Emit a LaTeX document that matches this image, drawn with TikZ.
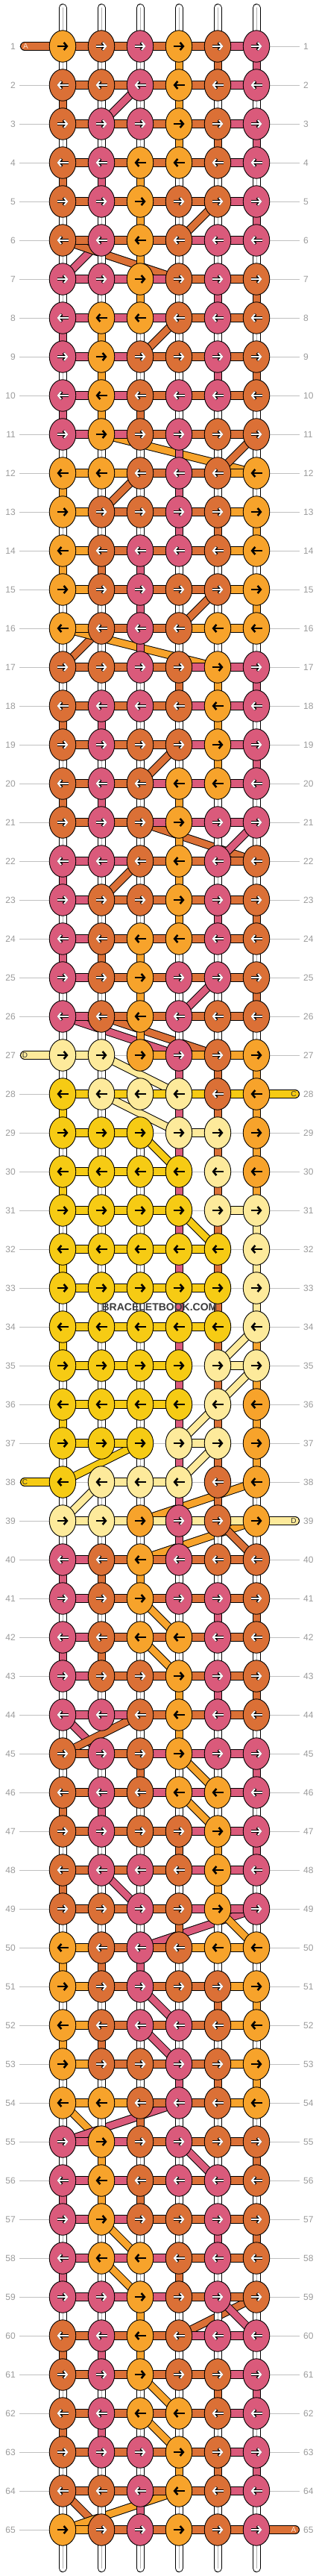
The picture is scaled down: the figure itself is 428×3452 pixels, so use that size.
\documentclass[tikz,border=0pt]{standalone}
\usepackage{fontspec}
\setmainfont{Liberation Sans}
\usetikzlibrary{arrows.meta,shapes.geometric}
\definecolor{kd}{HTML}{DB7036}
\definecolor{ko}{HTML}{F7A32B}
\definecolor{kp}{HTML}{DA5A7B}
\definecolor{ky}{HTML}{F6CB14}
\definecolor{kl}{HTML}{FDEA9B}
\definecolor{kw}{HTML}{FFFFFF}
\definecolor{lbltext}{HTML}{9B9B9B}
\definecolor{lblline}{HTML}{C0C0C0}
\definecolor{midline}{HTML}{B0B0B0}
\definecolor{wmark}{HTML}{3C3C3C}
\definecolor{alabel}{HTML}{FBE3D3}
\definecolor{dlabel}{HTML}{333333}
\tikzset{
 knot/.style={ellipse,draw=black,line width=0.9pt,minimum width=35.5pt,minimum height=42.5pt,inner sep=0pt},
 rowlbl/.style={text=lbltext,font=\fontsize{12}{12}\selectfont,inner sep=0pt},
 guide/.style={draw=lblline,line width=0.9pt},
 hout/.style={line width=12pt,draw=black},
 vout/.style={line width=11pt,draw=black},
 arrtip/.style={-{Straight Barb[length=4.2pt,width=10pt]}},
 endlbl/.style={font=\fontsize{10}{10}\selectfont,inner sep=0pt},
}
% pass 1: connectors
\newcommand\RowConn[4]{%
  \pgfmathtruncatemacro\prevr{#1-1}%
  \foreach \c [count=\i] in {#3} {%
    \if\c n\else
      \pgfmathtruncatemacro\j{\i+1}%
      \draw[hout] (n-#1-\i) -- (n-#1-\j);
      \draw[line width=10pt,draw=k\c] (n-#1-\i) -- (n-#1-\j);
    \fi
  }%
  \ifnum#1>1
  \foreach \c [count=\i] in {#4} {%
    \if\c n\else
      \draw[vout] (n-\prevr-\i) -- (n-#1-\i);
      \draw[line width=9pt,draw=k\c] (n-\prevr-\i) -- (n-#1-\i);
      \if\c w\draw[midline,line width=0.6pt] (n-\prevr-\i) -- (n-#1-\i);\fi
    \fi
  }%
  \fi
}
% pass 2: knots
\newcommand\RowKnots[4]{%
  \ifodd#1\relax\def\axa{-7.5pt}\def\axb{7.5pt}\else\def\axa{7.5pt}\def\axb{-7.5pt}\fi
  \foreach \c [count=\i] in {#2} {%
    \node[knot,fill=k\c] (k-#1-\i) at (n-#1-\i) {};
    \if\c d\def\light{0}\else\if\c p\def\light{0}\else\def\light{1}\fi\fi
    \ifnum\light=0
      \draw[arrtip,line width=3.6pt,black] ([xshift=\axa]k-#1-\i.center) -- ([xshift=\axb]k-#1-\i.center);
      \draw[arrtip,line width=2.0pt,white] ([xshift=\axa]k-#1-\i.center) -- ([xshift=\axb]k-#1-\i.center);
    \else
      \draw[arrtip,line width=2.6pt,black] ([xshift=\axa]k-#1-\i.center) -- ([xshift=\axb]k-#1-\i.center);
    \fi
  }%
}
\newcommand\Dg[5]{%
    \draw[line width=11pt,black] (n-#1-#2) -- (n-#3-#4);
    \draw[line width=9pt,k#5] (n-#1-#2) -- (n-#3-#4);}
\newcommand\StrEnd[5]{% coord name, x, row, col, colour
  \coordinate (#1) at (#2,{62+52*(#3-1)});
  \draw[line width=12pt,black,line cap=round] (#1) -- (n-#3-#4);
  \draw[line width=10pt,k#5,line cap=round] (#1) -- (n-#3-#4);}
\def\RowData{%
\Row{1}{o,d,p,o,d,p}{d,d,d,d,p}{n,n,n,n,n,n}
\Row{2}{d,d,p,o,d,p}{d,d,d,d,p}{w,w,w,o,d,p}
\Row{3}{d,p,p,o,d,p}{d,d,d,d,p}{d,w,w,o,w,w}
\Row{4}{d,p,o,o,d,p}{d,d,d,d,p}{w,w,w,o,d,p}
\Row{5}{d,p,o,d,d,p}{d,d,d,d,p}{d,p,o,w,w,w}
\Row{6}{d,p,o,d,p,p}{d,d,d,p,p}{w,w,o,w,w,p}
\Row{7}{p,p,o,d,p,d}{p,p,p,d,d}{w,w,o,w,w,w}
\Row{8}{p,o,o,d,p,d}{p,p,p,d,d}{w,w,o,w,p,d}
\Row{9}{p,o,d,d,p,d}{p,p,d,d,d}{p,o,w,w,w,w}
\Row{10}{p,o,d,p,p,d}{p,p,d,d,d}{w,o,w,w,p,d}
\Row{11}{p,o,d,p,d,d}{p,p,d,d,d}{p,o,d,w,w,w}
\Row{12}{o,o,d,p,d,o}{o,o,d,d,o}{w,w,w,p,w,w}
\Row{13}{o,d,d,p,d,o}{o,d,d,d,o}{o,w,w,p,w,w}
\Row{14}{o,d,p,p,d,o}{o,d,d,d,o}{w,w,w,p,d,o}
\Row{15}{o,d,p,d,d,o}{o,d,d,d,o}{o,d,p,w,w,w}
\Row{16}{o,d,p,d,o,o}{o,d,d,o,o}{w,w,p,w,w,o}
\Row{17}{d,d,p,d,o,p}{d,d,d,p,p}{w,w,p,w,w,w}
\Row{18}{d,p,p,d,o,p}{d,d,d,p,p}{w,w,w,d,o,p}
\Row{19}{d,p,d,d,o,p}{d,d,d,p,p}{d,p,w,w,o,w}
\Row{20}{d,p,d,o,o,p}{d,d,p,p,p}{w,w,w,w,o,p}
\Row{21}{d,p,d,o,p,p}{d,d,p,p,p}{d,p,w,o,w,w}
\Row{22}{p,p,d,o,p,d}{p,p,d,d,d}{w,w,w,o,w,w}
\Row{23}{p,d,d,o,p,d}{p,d,d,d,d}{p,w,w,o,w,w}
\Row{24}{p,d,o,o,p,d}{p,d,d,d,d}{w,w,w,o,p,d}
\Row{25}{p,d,o,p,p,d}{p,d,d,d,d}{p,d,o,w,w,w}
\Row{26}{p,d,o,p,d,d}{p,d,d,d,d}{w,w,o,w,w,d}
\Row{27}{l,l,o,p,d,o}{l,n,o,o,o}{w,w,o,w,w,w}
\Row{28}{y,l,l,l,d,o}{y,y,y,y,y}{w,w,n,p,d,o}
\Row{29}{y,y,y,l,l,o}{y,y,n,l,n}{y,w,n,p,d,o}
\Row{30}{y,y,y,y,l,o}{y,y,y,n,n}{w,w,w,p,d,o}
\Row{31}{y,y,y,y,l,l}{y,y,y,n,l}{y,w,w,p,d,o}
\Row{32}{y,y,y,y,y,l}{y,y,y,y,n}{w,w,w,p,d,l}
\Row{33}{y,y,y,y,y,l}{y,y,y,y,n}{y,w,w,p,d,l}
\Row{34}{y,y,y,y,y,l}{y,y,y,y,n}{w,w,w,p,d,l}
\Row{35}{y,y,y,y,l,l}{y,y,y,n,l}{y,w,w,p,d,o}
\Row{36}{y,y,y,y,l,o}{y,y,y,n,n}{w,w,w,p,d,o}
\Row{37}{y,y,y,l,l,o}{y,y,n,l,n}{y,w,w,p,d,o}
\Row{38}{y,l,l,l,d,o}{n,l,l,n,n}{w,n,w,p,d,o}
\Row{39}{l,l,o,p,d,o}{l,l,l,l,l}{w,w,w,p,d,w}
\Row{40}{p,d,o,p,d,d}{p,d,d,d,d}{w,w,w,p,w,w}
\Row{41}{p,d,o,p,p,d}{p,d,d,d,d}{p,d,o,w,w,w}
\Row{42}{p,d,o,o,p,d}{p,d,d,d,d}{w,w,w,w,p,d}
\Row{43}{p,d,d,o,p,d}{p,d,d,d,d}{p,d,w,w,w,w}
\Row{44}{p,p,d,o,p,d}{p,p,d,d,d}{w,w,w,o,p,d}
\Row{45}{d,p,d,o,p,p}{d,d,p,p,p}{w,n,w,o,w,w}
\Row{46}{d,p,d,o,o,p}{d,d,p,p,p}{w,w,d,w,w,p}
\Row{47}{d,p,d,d,o,p}{d,d,d,p,p}{d,p,w,w,w,w}
\Row{48}{d,p,p,d,o,p}{d,d,d,p,p}{w,w,w,d,o,p}
\Row{49}{d,d,p,d,o,p}{d,d,d,p,p}{d,w,w,w,o,w}
\Row{50}{o,d,p,d,o,o}{o,d,d,o,o}{w,w,w,d,w,w}
\Row{51}{o,d,p,d,d,o}{o,d,d,d,o}{o,d,p,w,w,w}
\Row{52}{o,d,p,p,d,o}{o,d,d,d,o}{w,w,w,w,d,o}
\Row{53}{o,d,d,p,d,o}{o,d,d,d,o}{o,d,w,w,w,w}
\Row{54}{o,o,d,p,d,o}{o,o,d,d,o}{w,w,w,p,d,o}
\Row{55}{p,o,d,p,d,d}{p,p,d,d,d}{w,w,d,w,w,w}
\Row{56}{p,o,d,p,p,d}{p,p,d,d,d}{w,o,w,w,w,d}
\Row{57}{p,o,d,d,p,d}{p,p,d,d,d}{p,o,d,w,w,w}
\Row{58}{p,o,o,d,p,d}{p,p,p,d,d}{w,w,w,w,p,d}
\Row{59}{p,p,o,d,p,d}{p,p,p,d,d}{p,w,w,d,w,w}
\Row{60}{d,p,o,d,p,p}{d,d,d,p,p}{w,w,o,w,w,w}
\Row{61}{d,p,o,d,d,p}{d,d,d,d,p}{d,p,o,w,w,w}
\Row{62}{d,p,o,o,d,p}{d,d,d,d,p}{w,w,w,w,d,p}
\Row{63}{d,p,p,o,d,p}{d,d,d,d,p}{d,p,w,w,w,w}
\Row{64}{d,d,p,o,d,p}{d,d,d,d,p}{w,w,w,o,d,p}
\Row{65}{o,d,p,o,d,p}{o,d,d,d,d}{w,w,p,w,w,w}
}
\begin{document}
\begin{tikzpicture}[x=1pt,y=-1pt]
\useasboundingbox (0,0) rectangle (428,3452);
\fill[white] (0,0) rectangle (428,3452);
% grid positions, guide lines and row numbers
\foreach \r in {1,...,65} {
  \pgfmathtruncatemacro\ypos{62+52*(\r-1)}
  \foreach \i in {1,...,6} { \coordinate (n-\r-\i) at ({32+52*\i},\ypos); }
  \coordinate (gl-\r) at (26,\ypos);
  \coordinate (gr-\r) at (402,\ypos);
  \draw[guide] (gl-\r) -- (gr-\r);
  \node[rowlbl,anchor=east] (ll-\r) at (21,\ypos) {\r};
  \node[rowlbl,anchor=west] (lr-\r) at (407,\ypos) {\r};
}
% diagonal strings
\Dg{2}{3}{3}{2}{p}
\Dg{5}{5}{6}{4}{d}
\Dg{6}{2}{7}{1}{p}
\Dg{6}{1}{7}{4}{d}
\Dg{8}{4}{9}{3}{d}
\Dg{11}{2}{12}{6}{o}
\Dg{11}{6}{12}{5}{d}
\Dg{12}{3}{13}{2}{d}
\Dg{15}{5}{16}{4}{d}
\Dg{16}{2}{17}{1}{d}
\Dg{16}{1}{17}{5}{o}
\Dg{19}{4}{20}{3}{d}
\Dg{21}{3}{22}{6}{d}
\Dg{21}{6}{22}{5}{p}
\Dg{22}{3}{23}{2}{d}
\Dg{25}{5}{26}{4}{p}
\Dg{26}{1}{27}{4}{p}
\Dg{26}{2}{27}{5}{d}
\Dg{27}{2}{28}{4}{l}
\Dg{28}{2}{29}{4}{l}
\Dg{29}{3}{30}{4}{y}
\Dg{31}{4}{32}{5}{y}
\Dg{34}{6}{35}{5}{l}
\Dg{35}{6}{36}{5}{l}
\Dg{36}{5}{37}{4}{l}
\Dg{37}{3}{38}{1}{y}
\Dg{37}{5}{38}{4}{l}
\Dg{38}{2}{39}{1}{l}
\Dg{38}{6}{39}{3}{o}
\Dg{39}{6}{40}{3}{o}
\Dg{39}{5}{40}{6}{d}
\Dg{41}{3}{42}{4}{o}
\Dg{42}{3}{43}{4}{o}
\Dg{44}{1}{45}{2}{p}
\Dg{44}{3}{45}{1}{d}
\Dg{45}{4}{46}{5}{o}
\Dg{46}{4}{47}{5}{o}
\Dg{48}{2}{49}{3}{p}
\Dg{49}{6}{50}{3}{p}
\Dg{49}{5}{50}{6}{o}
\Dg{51}{3}{52}{4}{p}
\Dg{52}{3}{53}{4}{p}
\Dg{54}{1}{55}{2}{o}
\Dg{54}{4}{55}{1}{p}
\Dg{55}{4}{56}{5}{p}
\Dg{57}{2}{58}{3}{o}
\Dg{58}{2}{59}{3}{o}
\Dg{59}{6}{60}{4}{d}
\Dg{59}{5}{60}{6}{p}
\Dg{61}{3}{62}{4}{o}
\Dg{62}{3}{63}{4}{o}
\Dg{64}{1}{65}{2}{d}
\Dg{64}{4}{65}{1}{o}
% loose strings at top and bottom
\foreach \i in {1,...,6} {
  \coordinate (top-\i) at ({32+52*\i},10.5);
  \coordinate (bot-\i) at ({32+52*\i},3441.5);
  \draw[line width=11pt,black,line cap=round] (top-\i) -- (n-1-\i);
  \draw[line width=9pt,white,line cap=round] (top-\i) -- (n-1-\i);
  \draw[midline,line width=0.6pt] (top-\i) -- (n-1-\i);
  \draw[line width=11pt,black,line cap=round] (bot-\i) -- (n-65-\i);
  \draw[line width=9pt,white,line cap=round] (bot-\i) -- (n-65-\i);
  \draw[midline,line width=0.6pt] (bot-\i) -- (n-65-\i);
}
% string ends
\StrEnd{eA1}{33}{1}{1}{d}
\StrEnd{eD1}{33}{27}{1}{l}
\StrEnd{eC1}{396}{28}{6}{y}
\StrEnd{eC2}{33}{38}{1}{y}
\StrEnd{eD2}{396}{39}{6}{l}
\StrEnd{eA2}{396}{65}{6}{d}
% connectors
\let\Row\RowConn
\RowData
% knots
\let\Row\RowKnots
\RowData
% letters on string ends
\node[endlbl,text=alabel] (tA1) at (34.5,62) {A};
\node[endlbl,text=dlabel] (tD1) at (33.5,1414) {D};
\node[endlbl,text=dlabel] (tC1) at (394,1466) {C};
\node[endlbl,text=dlabel] (tC2) at (33.5,1986) {C};
\node[endlbl,text=dlabel] (tD2) at (394,2038) {D};
\node[endlbl,text=alabel] (tA2) at (394,3390) {A};
% watermark
\node[font=\bfseries\fontsize{14}{14}\selectfont,text=wmark,inner sep=0pt] (wm) at (214,1752) {BRACELETBOOK.COM};
\end{tikzpicture}
\end{document}
